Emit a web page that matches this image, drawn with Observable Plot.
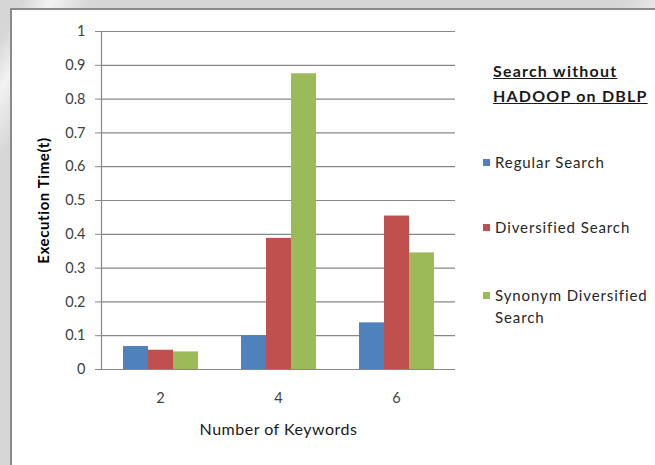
<!DOCTYPE html>
<html>
<head>
<meta charset="utf-8">
<script src="https://cdn.jsdelivr.net/npm/d3@7"></script>
<script src="https://cdn.jsdelivr.net/npm/@observablehq/plot@0.6"></script>
<style>
  html, body { margin: 0; padding: 0; }
  body {
    width: 655px; height: 465px; overflow: hidden; position: relative;
    background: linear-gradient(120deg, #d6d6d6 0px, #d6d6d6 20px, #f2f2f2 45px, #d6d6d6 80px, #d6d6d6 540px, #f0f0f0 590px, #d6d6d6 640px);
    font-family: Lato, "Open Sans", sans-serif;
  }
  #card {
    position: absolute; left: 10px; top: 8px; right: 0; bottom: 0;
    background: #fff; border-left: 2px solid #8a8a8a; border-top: 2px solid #8a8a8a;
  }
  #chart { position: absolute; left: 0; top: 0; }
  #chart svg { overflow: visible; }
  #chart svg text { font-family: Lato, sans-serif; }
  #legend { position: absolute; left: 483px; top: 0; color: #262626; }
  .ltitle { position: absolute; left: 10px; font-weight: bold; font-size: 16px; letter-spacing: 1.2px; text-decoration: underline; white-space: nowrap; color: #1a1a1a; }
  .litem { position: absolute; left: 0; font-size: 15px; letter-spacing: 0.9px; white-space: nowrap; line-height: 22px; }
  .sw { display: inline-block; width: 7px; height: 7px; margin-right: 5px; vertical-align: 2px; }
</style>
</head>
<body>
<div id="card"></div>
<div id="chart"></div>
<div id="legend"></div>
<script>
const groups = ["2", "4", "6"];
const series = ["Regular Search", "Diversified Search", "Synonym Diversified Search"];
const regular = [0.068, 0.100, 0.138];
const diversified = [0.057, 0.388, 0.454];
const synonym = [0.052, 0.875, 0.345];
const colors = ["#4F81BD", "#C0504D", "#9BBB59"];
const yTicks = [0, 0.1, 0.2, 0.3, 0.4, 0.5, 0.6, 0.7, 0.8, 0.9, 1];
const legendTitle = ["Search without", "HADOOP on DBLP"];

const valuesBySeries = [regular, diversified, synonym];
const rows = [];
groups.forEach((g, i) => series.forEach((s, j) => rows.push({group: g, series: s, value: valuesBySeries[j][i]})));

const chart = Plot.plot({
  width: 655,
  height: 465,
  marginLeft: 101,
  marginRight: 200,
  marginTop: 31,
  marginBottom: 96,
  style: {background: "transparent", fontSize: "14.5px", color: "#404040"},
  fx: {domain: groups, padding: 0},
  x: {domain: series, axis: null, paddingInner: 0, paddingOuter: 0.77},
  y: {domain: [0, 1]},
  color: {domain: series, range: colors},
  marks: [
    Plot.ruleY(yTicks, {stroke: "#878787", strokeWidth: 1.2}),
    Plot.frame({anchor: "left", facetAnchor: "left", stroke: "#878787", strokeWidth: 1.2}),
    Plot.barY(rows, {fx: "group", x: "series", y: "value", fill: "series"}),
    Plot.axisY(yTicks, {
      tickSize: 6, tickPadding: 10, stroke: "#878787",
      tickFormat: d => String(+d.toFixed(1)),
      label: "Execution Time(t)", labelArrow: "none", labelAnchor: "center", labelOffset: 63
    }),
    Plot.axisFx({
      anchor: "bottom", tickSize: 0, tickPadding: 23,
      label: "Number of Keywords", labelArrow: "none", labelAnchor: "center", labelOffset: 65
    })
  ]
});
document.getElementById("chart").appendChild(chart);

// style axis labels
chart.querySelectorAll('[aria-label="y-axis label"] text').forEach(t => {
  t.textContent = t.textContent.replace(/\s*[↑→←↓]\s*/g, "");
  t.style.fontWeight = "bold"; t.style.fill = "#000"; t.style.fontSize = "15px"; t.style.letterSpacing = "0.6px";
});
chart.querySelectorAll('[aria-label="fx-axis label"] text').forEach(t => {
  t.textContent = t.textContent.replace(/\s*[↑→←↓]\s*/g, "");
  t.style.fill = "#1a1a1a"; t.style.fontSize = "16px"; t.style.letterSpacing = "0.5px";
});

// legend
const legend = d3.select("#legend");
legendTitle.forEach((t, i) => legend.append("div").attr("class", "ltitle").style("top", (61 + i * 25) + "px").text(t));
const itemTops = [151, 216, 284];
series.forEach((s, i) => {
  const div = legend.append("div").attr("class", "litem").style("top", itemTops[i] + "px");
  div.append("span").attr("class", "sw").style("background", colors[i]);
  if (s === "Synonym Diversified Search") {
    div.append("span").text("Synonym Diversified");
    div.append("br");
    div.append("span").style("margin-left", "12px").text("Search");
  } else {
    div.append("span").text(s);
  }
});
</script>
</body>
</html>
